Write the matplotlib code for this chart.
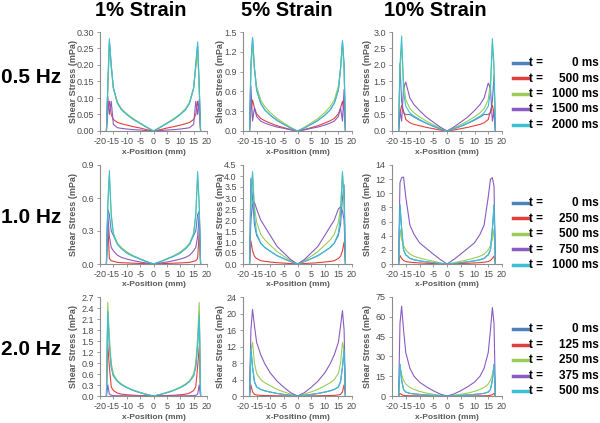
import matplotlib
matplotlib.use("Agg")
from matplotlib import pyplot as plt
from matplotlib.lines import Line2D

plt.rcParams['font.family'] = ['Liberation Sans', 'DejaVu Sans']
plt.rcParams['axes.unicode_minus'] = False

# x positions (mm) shared by every curve
x_pos = [-17.6, -17.1, -16.5, -15.8, -15.0, -13.5, -12.0, -10.0, -7.5, -5.0, -2.5, 0.0,
         2.5, 5.0, 7.5, 10.0, 12.0, 13.5, 15.0, 15.8, 16.5, 17.1, 17.6]

strains = ["1% Strain", "5% Strain", "10% Strain"]
freqs = ["0.5 Hz", "1.0 Hz", "2.0 Hz"]
times = [[0, 500, 1000, 1500, 2000],
         [0, 250, 500, 750, 1000],
         [0, 125, 250, 375, 500]]
y_max = [[0.30, 1.5, 3.0], [0.9, 4.5, 14], [2.7, 24, 75]]
y_step = [[0.05, 0.3, 0.5], [0.3, 0.5, 2], [0.3, 4, 15]]
y_fmt = [["%.2f", "%.1f", "%.1f"], ["%.1f", "%.1f", "%.0f"], ["%.1f", "%.0f", "%.0f"]]
x_labels = [["x-Position (mm)"] * 3, ["x-Position (mm)"] * 3,
            ["x-Position (mm)", "x-Positino (mm)", "x-Position (mm)"]]

# shear stress (mPa), one list per time step, order t0..t4
hz05_1 = [
    [0, 0.13, 0.27, 0.20, 0.13, 0.085, 0.065, 0.05, 0.035, 0.023, 0.011, 0, 0.011, 0.023, 0.035, 0.05, 0.065, 0.085, 0.13, 0.20, 0.26, 0.13, 0],
    [0, 0.06, 0.09, 0.05, 0.035, 0.026, 0.022, 0.018, 0.013, 0.009, 0.004, 0, 0.004, 0.009, 0.013, 0.018, 0.022, 0.026, 0.035, 0.05, 0.09, 0.06, 0],
    [0, 0.12, 0.26, 0.19, 0.13, 0.088, 0.068, 0.052, 0.037, 0.024, 0.012, 0, 0.012, 0.024, 0.037, 0.052, 0.068, 0.088, 0.13, 0.19, 0.25, 0.12, 0],
    [0, 0.105, 0.05, 0.09, 0.02, 0.01, 0.008, 0.006, 0.004, 0.003, 0.001, 0, 0.001, 0.003, 0.004, 0.006, 0.008, 0.01, 0.02, 0.09, 0.05, 0.095, 0],
    [0, 0.14, 0.28, 0.20, 0.13, 0.085, 0.065, 0.05, 0.035, 0.023, 0.011, 0, 0.011, 0.023, 0.035, 0.05, 0.065, 0.085, 0.13, 0.20, 0.27, 0.14, 0],
]
hz05_5 = [
    [0, 1.0, 1.40, 0.95, 0.62, 0.42, 0.32, 0.24, 0.16, 0.10, 0.045, 0, 0.045, 0.10, 0.16, 0.24, 0.32, 0.42, 0.62, 0.95, 1.35, 1.0, 0],
    [0, 0.30, 0.47, 0.35, 0.26, 0.19, 0.155, 0.12, 0.08, 0.05, 0.022, 0, 0.022, 0.05, 0.08, 0.12, 0.155, 0.19, 0.26, 0.35, 0.45, 0.30, 0],
    [0, 0.90, 1.30, 0.95, 0.68, 0.47, 0.37, 0.28, 0.19, 0.12, 0.055, 0, 0.055, 0.12, 0.19, 0.28, 0.37, 0.47, 0.68, 0.95, 1.30, 0.90, 0],
    [0, 0.68, 0.15, 0.35, 0.22, 0.15, 0.12, 0.09, 0.06, 0.04, 0.018, 0, 0.018, 0.04, 0.06, 0.09, 0.12, 0.15, 0.22, 0.35, 0.15, 0.63, 0],
    [0, 1.0, 1.42, 0.95, 0.62, 0.42, 0.32, 0.24, 0.16, 0.10, 0.045, 0, 0.045, 0.10, 0.16, 0.24, 0.32, 0.42, 0.62, 0.95, 1.37, 1.0, 0],
]
hz05_10 = [
    [0, 2.05, 0.9, 0.55, 0.5, 0.5, 0.42, 0.33, 0.23, 0.14, 0.065, 0, 0.065, 0.14, 0.23, 0.33, 0.42, 0.5, 0.5, 0.55, 0.9, 1.7, 0],
    [0, 0.55, 0.78, 0.60, 0.35, 0.25, 0.20, 0.16, 0.11, 0.07, 0.03, 0, 0.03, 0.07, 0.11, 0.16, 0.20, 0.25, 0.35, 0.60, 0.78, 0.55, 0],
    [0, 1.8, 2.62, 1.5, 0.95, 0.68, 0.55, 0.43, 0.30, 0.19, 0.09, 0, 0.09, 0.19, 0.30, 0.43, 0.55, 0.68, 0.95, 1.5, 2.62, 1.8, 0],
    [0, 0.6, 0.3, 1.3, 1.48, 1.0, 0.8, 0.62, 0.42, 0.27, 0.12, 0, 0.12, 0.27, 0.42, 0.62, 0.8, 1.0, 1.45, 1.3, 0.3, 0.6, 0],
    [0, 2.0, 2.88, 1.2, 0.75, 0.55, 0.45, 0.35, 0.24, 0.15, 0.07, 0, 0.07, 0.15, 0.24, 0.35, 0.45, 0.55, 0.75, 1.2, 2.8, 2.0, 0],
]
hz10_1 = [
    [0, 0.50, 0.45, 0.30, 0.26, 0.18, 0.14, 0.10, 0.07, 0.045, 0.02, 0, 0.02, 0.045, 0.07, 0.10, 0.14, 0.18, 0.26, 0.30, 0.45, 0.48, 0],
    [0, 0.37, 0.05, 0.03, 0.025, 0.015, 0.012, 0.01, 0.007, 0.005, 0.002, 0, 0.002, 0.005, 0.007, 0.01, 0.012, 0.015, 0.025, 0.03, 0.05, 0.30, 0],
    [0, 0.50, 0.80, 0.45, 0.28, 0.19, 0.15, 0.11, 0.075, 0.048, 0.022, 0, 0.022, 0.048, 0.075, 0.11, 0.15, 0.19, 0.28, 0.45, 0.80, 0.50, 0],
    [0, 0.45, 0.25, 0.15, 0.12, 0.08, 0.06, 0.045, 0.03, 0.018, 0.008, 0, 0.008, 0.018, 0.03, 0.045, 0.06, 0.08, 0.12, 0.15, 0.25, 0.45, 0],
    [0, 0.55, 0.85, 0.45, 0.27, 0.18, 0.14, 0.10, 0.07, 0.045, 0.02, 0, 0.02, 0.045, 0.07, 0.10, 0.14, 0.18, 0.27, 0.45, 0.84, 0.55, 0],
]
hz10_5 = [
    [0, 3.9, 3.0, 1.8, 1.3, 0.95, 0.75, 0.58, 0.38, 0.24, 0.11, 0, 0.11, 0.24, 0.38, 0.58, 0.75, 0.95, 1.3, 1.8, 3.0, 3.6, 0],
    [0, 1.05, 0.6, 0.35, 0.25, 0.15, 0.12, 0.09, 0.06, 0.04, 0.02, 0, 0.02, 0.04, 0.06, 0.09, 0.12, 0.15, 0.25, 0.35, 0.6, 1.0, 0],
    [0, 2.5, 4.1, 2.6, 1.9, 1.35, 1.1, 0.85, 0.57, 0.35, 0.16, 0, 0.16, 0.35, 0.57, 0.85, 1.1, 1.35, 1.9, 2.6, 4.1, 2.5, 0],
    [0, 2.0, 2.7, 2.8, 2.5, 2.0, 1.7, 1.3, 0.8, 0.5, 0.2, 0, 0.2, 0.5, 0.8, 1.3, 1.7, 2.0, 2.5, 2.6, 2.4, 2.0, 0],
    [0, 3.0, 4.2, 2.2, 1.4, 0.95, 0.75, 0.58, 0.38, 0.24, 0.11, 0, 0.11, 0.24, 0.38, 0.58, 0.75, 0.95, 1.4, 2.2, 4.2, 3.0, 0],
]
hz10_10 = [
    [0, 8.3, 5.0, 2.0, 1.3, 0.8, 0.6, 0.45, 0.3, 0.2, 0.09, 0, 0.09, 0.2, 0.3, 0.45, 0.6, 0.8, 1.3, 2.0, 5.0, 8.3, 0],
    [0, 1.2, 0.8, 0.5, 0.35, 0.25, 0.2, 0.15, 0.1, 0.07, 0.03, 0, 0.03, 0.07, 0.1, 0.15, 0.2, 0.25, 0.35, 0.5, 0.8, 1.1, 0],
    [0, 5.0, 3.5, 2.6, 2.0, 1.4, 1.1, 0.85, 0.6, 0.38, 0.17, 0, 0.17, 0.38, 0.6, 0.85, 1.1, 1.4, 2.0, 2.6, 3.5, 5.0, 0],
    [0, 11.5, 12.2, 12.3, 9.5, 5.5, 4.2, 3.0, 2.2, 1.4, 0.65, 0, 0.65, 1.4, 2.2, 3.0, 4.2, 5.5, 9.5, 12.0, 12.2, 11.0, 0],
    [0, 8.4, 5.0, 2.0, 1.3, 0.8, 0.6, 0.45, 0.3, 0.2, 0.09, 0, 0.09, 0.2, 0.3, 0.45, 0.6, 0.8, 1.3, 2.0, 5.0, 8.4, 0],
]
hz20_1 = [
    [0, 2.3, 1.4, 0.8, 0.55, 0.40, 0.31, 0.23, 0.15, 0.09, 0.04, 0, 0.04, 0.09, 0.15, 0.23, 0.31, 0.40, 0.55, 0.8, 1.4, 2.3, 0],
    [0, 1.4, 0.8, 0.25, 0.15, 0.08, 0.05, 0.035, 0.02, 0.012, 0.005, 0, 0.005, 0.012, 0.02, 0.035, 0.05, 0.08, 0.15, 0.25, 0.8, 1.35, 0],
    [0, 2.55, 1.6, 0.9, 0.6, 0.42, 0.33, 0.24, 0.16, 0.10, 0.045, 0, 0.045, 0.10, 0.16, 0.24, 0.33, 0.42, 0.6, 0.9, 1.6, 2.55, 0],
    [0, 0.3, 0.05, 0.02, 0.01, 0.008, 0.006, 0.005, 0.003, 0.002, 0.001, 0, 0.001, 0.002, 0.003, 0.005, 0.006, 0.008, 0.01, 0.02, 0.05, 0.3, 0],
    [0, 2.3, 1.4, 0.8, 0.55, 0.40, 0.31, 0.23, 0.15, 0.09, 0.04, 0, 0.04, 0.09, 0.15, 0.23, 0.31, 0.40, 0.55, 0.8, 1.4, 2.2, 0],
]
hz20_5 = [
    [0, 11.5, 7.0, 3.5, 2.2, 1.6, 1.25, 0.95, 0.62, 0.38, 0.17, 0, 0.17, 0.38, 0.62, 0.95, 1.25, 1.6, 2.2, 3.5, 7.0, 11.2, 0],
    [0, 2.7, 1.0, 0.4, 0.25, 0.15, 0.12, 0.09, 0.06, 0.04, 0.02, 0, 0.02, 0.04, 0.06, 0.09, 0.12, 0.15, 0.25, 0.4, 1.0, 2.7, 0],
    [0, 11.0, 13.0, 8.0, 5.5, 4.0, 3.2, 2.5, 1.6, 1.0, 0.45, 0, 0.45, 1.0, 1.6, 2.5, 3.2, 4.0, 5.5, 8.0, 13.0, 11.0, 0],
    [0, 16.0, 21.0, 17.0, 13.0, 10.0, 7.8, 5.6, 3.6, 2.1, 0.8, 0, 0.8, 2.1, 3.6, 5.6, 7.8, 10.0, 13.0, 17.0, 20.7, 16.0, 0],
    [0, 11.5, 7.0, 3.5, 2.2, 1.6, 1.25, 0.95, 0.62, 0.38, 0.17, 0, 0.17, 0.38, 0.62, 0.95, 1.25, 1.6, 2.2, 3.5, 7.0, 11.2, 0],
]
hz20_10 = [
    [0, 24.0, 12.0, 5.0, 3.0, 2.0, 1.6, 1.2, 0.8, 0.5, 0.2, 0, 0.2, 0.5, 0.8, 1.2, 1.6, 2.0, 3.0, 5.0, 12.0, 24.0, 0],
    [0, 2.0, 1.0, 0.5, 0.3, 0.2, 0.15, 0.1, 0.07, 0.05, 0.02, 0, 0.02, 0.05, 0.07, 0.1, 0.15, 0.2, 0.3, 0.5, 1.0, 2.0, 0],
    [0, 22.0, 16.0, 12.0, 9.0, 6.5, 5.0, 3.5, 2.2, 1.3, 0.6, 0, 0.6, 1.3, 2.2, 3.5, 5.0, 6.5, 9.0, 12.0, 16.0, 22.0, 0],
    [0, 55.0, 68.0, 50.0, 33.0, 21.0, 15.0, 10.5, 7.0, 4.0, 1.5, 0, 1.5, 4.0, 7.0, 10.5, 15.0, 21.0, 33.0, 50.0, 67.0, 55.0, 0],
    [0, 24.0, 12.0, 5.0, 3.0, 2.0, 1.6, 1.2, 0.8, 0.5, 0.2, 0, 0.2, 0.5, 0.8, 1.2, 1.6, 2.0, 3.0, 5.0, 12.0, 24.0, 0],
]
panels = [[hz05_1, hz05_5, hz05_10],
          [hz10_1, hz10_5, hz10_10],
          [hz20_1, hz20_5, hz20_10]]

colors = ['#4F81BD', '#E0413C', '#9BCB59', '#8A5BC2', '#3DBFD6']
gray = '#8c8c8c'
text_gray = '#4d4d4d'

W, H = 600, 423
fig = plt.figure(figsize=(6, 4.23), dpi=100)

col_left = [100, 243, 392]
col_width = [107, 109, 110]
row_top = [32, 165, 297]
row_height = 99
ylab_x = [73, 220, 368]
title_x = [141, 287, 435]
legend_top = [63, 203, 329]
legend_step = 15.5

for r in range(3):
    for c in range(3):
        ax = fig.add_axes([col_left[c] / W, 1 - (row_top[r] + row_height) / H,
                           col_width[c] / W, row_height / H])
        for i, ys in enumerate(panels[r][c]):
            ax.plot(x_pos, ys, color=colors[i], lw=0.8)
        ax.set_xlim(-20, 20)
        ax.set_ylim(0, y_max[r][c])
        ax.set_xticks(range(-20, 21, 5))
        n = int(round(y_max[r][c] / y_step[r][c]))
        ticks = [k * y_step[r][c] for k in range(n + 1)]
        ax.set_yticks(ticks)
        ax.set_yticklabels([y_fmt[r][c] % t for t in ticks])
        for s in ['top', 'right']:
            ax.spines[s].set_visible(False)
        for s in ['left', 'bottom']:
            ax.spines[s].set_color(gray)
            ax.spines[s].set_linewidth(0.8)
        ax.tick_params(axis='both', length=2.5, width=0.6, color=gray, pad=2,
                       labelsize=6.5, labelcolor=text_gray)
        ax.set_ylabel("Shear Stress (mPa)", fontsize=6.5, fontweight='bold',
                      color='#595959', va='center')
        ax.yaxis.set_label_coords((ylab_x[c] - col_left[c]) / col_width[c], 0.5)
        ax.set_xlabel(x_labels[r][c], fontsize=6, fontweight='bold',
                      color='#595959', va='center')
        ax.xaxis.set_label_coords(0.5, -21 / row_height)

for c in range(3):
    fig.text(title_x[c] / W, 1 - 16.5 / H, strains[c], ha='center', va='baseline',
             fontsize=14.5, fontweight='bold')

row_base = [83, 223, 355]
for r in range(3):
    fig.text(1 / W, 1 - row_base[r] / H, freqs[r], ha='left', va='baseline',
             fontsize=15, fontweight='bold')
    for i, t in enumerate(times[r]):
        y = 1 - (legend_top[r] + i * legend_step) / H
        fig.add_artist(Line2D([513 / W, 528 / W], [y, y], color=colors[i], lw=2.5,
                              transform=fig.transFigure))
        fig.text(529 / W, y, "t =", ha='left', va='center', fontsize=8.5, fontweight='bold')
        fig.text(599 / W, y, "%d ms" % t, ha='right', va='center', fontsize=8.5,
                 fontweight='bold')

fig.savefig("out.png", dpi=100)
